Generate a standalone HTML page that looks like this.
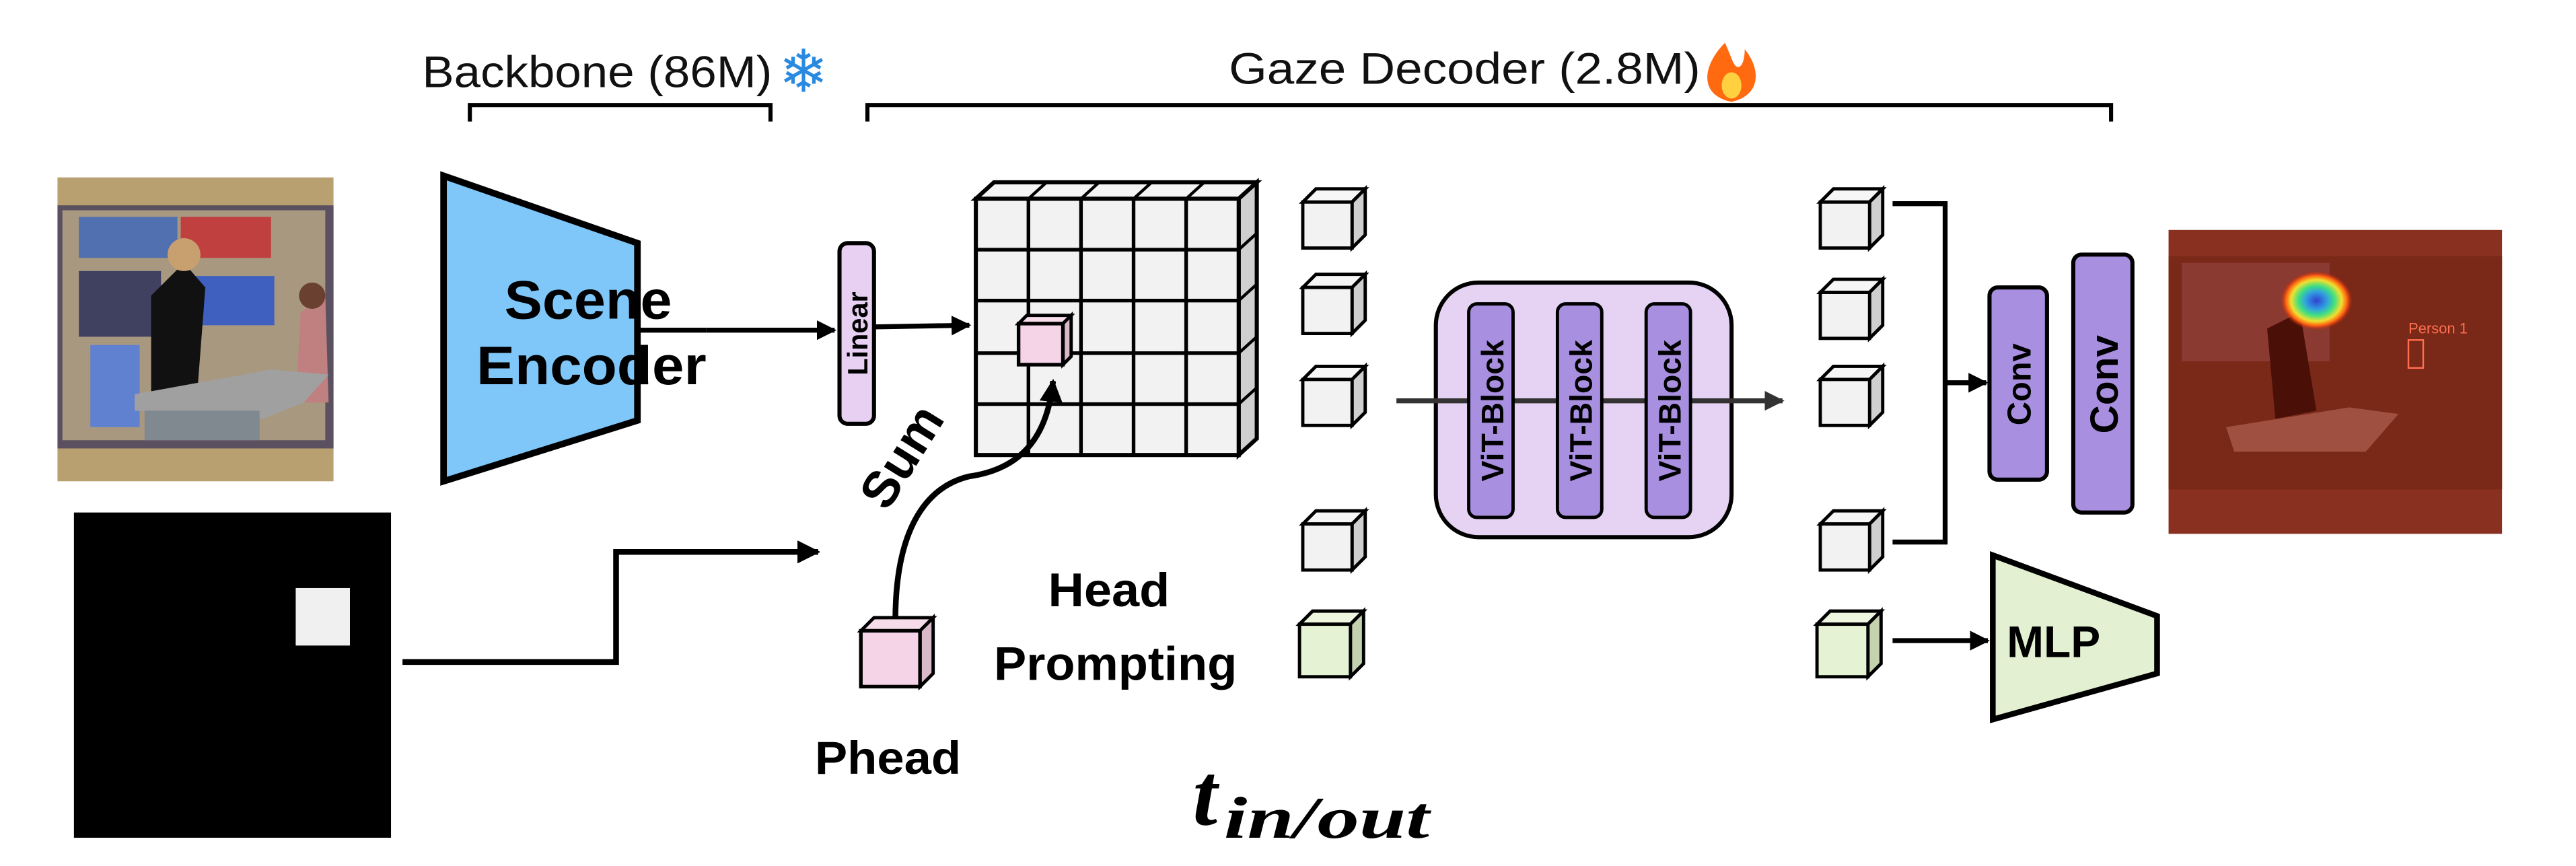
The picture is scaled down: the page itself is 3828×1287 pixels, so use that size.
<!DOCTYPE html>
<html><head><meta charset="utf-8"><style>html,body{margin:0;padding:0;background:#fff}svg{display:block}</style></head>
<body>
<svg width="3828" height="1287" viewBox="0 0 1568 527.2" preserveAspectRatio="none" xmlns="http://www.w3.org/2000/svg">
<defs>
<marker id="ah" viewBox="0 0 10 10" refX="9" refY="5" markerWidth="4" markerHeight="4" orient="auto"><path d="M0,0 L10,5 L0,10 z" fill="#000"/></marker>
<marker id="ah2" viewBox="0 0 10 10" refX="9" refY="5" markerWidth="4" markerHeight="4" orient="auto"><path d="M0,0 L10,5 L0,10 z" fill="#333"/></marker>
<radialGradient id="heat" cx="0.5" cy="0.5" r="0.5">
<stop offset="0" stop-color="#3040d0"/><stop offset="0.3" stop-color="#30a0e0"/><stop offset="0.5" stop-color="#40e080"/><stop offset="0.7" stop-color="#f0e030"/><stop offset="0.85" stop-color="#ff6010"/><stop offset="1" stop-color="#c02010" stop-opacity="0"/>
</radialGradient>
</defs>
<g font-family="Liberation Sans, sans-serif">
<text x="257" y="53" font-size="27" fill="#111" textLength="213" lengthAdjust="spacingAndGlyphs">Backbone (86M)</text>
<text x="474" y="56" font-size="36" fill="#2a8ae0">❄</text>
<path d="M286,74 V64 H469 V74" fill="none" stroke="#000" stroke-width="2.5"/>
<text x="748" y="51" font-size="27" fill="#111" textLength="287" lengthAdjust="spacingAndGlyphs">Gaze Decoder (2.8M)</text>
<path d="M1050,26 C1036,40 1034,58 1054,62 C1072,58 1072,42 1062,30 C1062,40 1058,44 1055,38 Z" fill="#ff6a10"/>
<ellipse cx="1054" cy="52" rx="6" ry="8" fill="#ffd040"/>
<path d="M528,74 V64 H1285 V74" fill="none" stroke="#000" stroke-width="2.5"/>

<rect x="35" y="108" width="168" height="185" fill="#b8a070"/>
<rect x="35" y="125" width="168" height="148" fill="#5a5060"/>
<rect x="38" y="128" width="160" height="140" fill="#a89880"/>
<rect x="48" y="132" width="60" height="25" fill="#5070b0"/><rect x="110" y="132" width="55" height="25" fill="#c04040"/>
<rect x="48" y="165" width="50" height="40" fill="#404060"/><rect x="112" y="168" width="55" height="30" fill="#4060c0"/>
<rect x="55" y="210" width="30" height="50" fill="#6080d0"/>
<path d="M92,180 L112,160 L125,175 L120,240 L92,240 Z" fill="#111"/>
<circle cx="112" cy="155" r="10" fill="#c8a070"/>
<path d="M183,190 L198,180 L200,245 L180,245 Z" fill="#c08080"/>
<circle cx="190" cy="180" r="8" fill="#6a4030"/>
<path d="M82,240 L165,225 L200,228 L185,245 L160,255 L82,250 Z" fill="#a0a0a0"/>
<rect x="88" y="250" width="70" height="18" fill="#808890"/>

<polygon points="270,107 388,148 388,256 270,293" fill="#7fc6f9" stroke="#000" stroke-width="4"/>
<text x="358" y="194" font-size="33" font-weight="bold" text-anchor="middle" textLength="102" lengthAdjust="spacingAndGlyphs">Scene</text>
<text x="360" y="234" font-size="33" font-weight="bold" text-anchor="middle" textLength="140" lengthAdjust="spacingAndGlyphs">Encoder</text>
<line x1="430" y1="201" x2="508" y2="201" stroke="#000" stroke-width="3" marker-end="url(#ah)"/>
<line x1="388" y1="201" x2="430" y2="201" stroke="#000" stroke-width="3"/>
<rect x="511" y="148" width="21" height="110" rx="5" fill="#e8d0f2" stroke="#000" stroke-width="2.5"/>
<text transform="translate(528,203) rotate(-90)" font-size="17" font-weight="bold" text-anchor="middle">Linear</text>
<line x1="532" y1="199" x2="590" y2="198" stroke="#000" stroke-width="3" marker-end="url(#ah)"/>

<polygon points="594,121 605,111 765,111 754,121" fill="#f4f4f4" stroke="#000" stroke-width="2.5"/>
<polygon points="754,121 765,111 765,267 754,277" fill="#cfcfcf" stroke="#000" stroke-width="2.5"/>
<g stroke="#000" stroke-width="1.8">
<line x1="626" y1="121" x2="637" y2="111"/><line x1="658" y1="121" x2="669" y2="111"/><line x1="690" y1="121" x2="701" y2="111"/><line x1="722" y1="121" x2="733" y2="111"/>
<line x1="754" y1="152" x2="765" y2="142"/><line x1="754" y1="183" x2="765" y2="173"/><line x1="754" y1="215" x2="765" y2="205"/><line x1="754" y1="246" x2="765" y2="236"/>
</g>
<rect x="594" y="121" width="160" height="156" fill="#f2f2f2" stroke="#000" stroke-width="2.5"/>
<g stroke="#000" stroke-width="2.2">
<line x1="626" y1="121" x2="626" y2="277"/><line x1="658" y1="121" x2="658" y2="277"/><line x1="690" y1="121" x2="690" y2="277"/><line x1="722" y1="121" x2="722" y2="277"/>
<line x1="594" y1="152" x2="754" y2="152"/><line x1="594" y1="183" x2="754" y2="183"/><line x1="594" y1="215" x2="754" y2="215"/><line x1="594" y1="246" x2="754" y2="246"/>
</g>
<polygon points="620,197 625,192 652,192 647,197" fill="#f6dbe8" stroke="#000" stroke-width="2"/>
<polygon points="647,197 652,192 652,217 647,222" fill="#d9b8c8" stroke="#000" stroke-width="2"/>
<rect x="620" y="197" width="27" height="25" fill="#f4d4e6" stroke="#000" stroke-width="2.2"/>

<path d="M545,378 C545,320 565,296 590,290 C625,285 638,262 641,232" fill="none" stroke="#000" stroke-width="3.5" marker-end="url(#ah)"/>
<text transform="translate(540,312) rotate(-58)" font-size="31" font-weight="bold">Sum</text>

<rect x="45" y="312" width="193" height="198" fill="#000"/>
<rect x="180" y="358" width="33" height="35" fill="#f0f0f0"/>
<path d="M245,403 H375 V336 H498" fill="none" stroke="#000" stroke-width="3.5" marker-end="url(#ah)"/>

<polygon points="524,384 532,376 568,376 560,384" fill="#f6dbe8" stroke="#000" stroke-width="2"/>
<polygon points="560,384 568,376 568,410 560,418" fill="#d9b8c8" stroke="#000" stroke-width="2"/>
<rect x="524" y="384" width="36" height="34" fill="#f4d4e6" stroke="#000" stroke-width="2.2"/>
<text x="496" y="471" font-size="28" font-weight="bold" textLength="89" lengthAdjust="spacingAndGlyphs">Phead</text>
<text x="638" y="369" font-size="29" font-weight="bold" textLength="74" lengthAdjust="spacingAndGlyphs">Head</text>
<text x="605" y="414" font-size="29" font-weight="bold" textLength="148" lengthAdjust="spacingAndGlyphs">Prompting</text>
<text x="726" y="502" font-family="Liberation Serif, serif" font-style="italic" font-weight="bold" font-size="54">t</text>
<text x="745" y="510" font-family="Liberation Serif, serif" font-style="italic" font-weight="bold" font-size="36" textLength="125" lengthAdjust="spacingAndGlyphs">in/out</text>

<g stroke="#000" stroke-width="2">
<g id="c1"><polygon points="793,123 801,115 831,115 823,123" fill="#f6f6f6"/><polygon points="823,123 831,115 831,143 823,151" fill="#cfcfcf"/><rect x="793" y="123" width="30" height="28" fill="#f2f2f2"/></g>
<use href="#c1" y="52"/><use href="#c1" y="108"/><use href="#c1" y="196"/>
<polygon points="791,380 799,372 830,372 822,380" fill="#eef6e0"/><polygon points="822,380 830,372 830,404 822,412" fill="#c5d2b0"/><rect x="791" y="380" width="31" height="32" fill="#e6f2d4"/>
<use href="#c1" x="315"/><use href="#c1" x="315" y="55"/><use href="#c1" x="315" y="108"/><use href="#c1" x="315" y="196"/>
<polygon points="1106,380 1114,372 1145,372 1137,380" fill="#eef6e0"/><polygon points="1137,380 1145,372 1145,404 1137,412" fill="#c5d2b0"/><rect x="1106" y="380" width="31" height="32" fill="#e6f2d4"/>
</g>

<rect x="874" y="172" width="180" height="155" rx="26" fill="#e6d3f3" stroke="#000" stroke-width="2.5"/>
<line x1="850" y1="244" x2="1085" y2="244" stroke="#333" stroke-width="3" marker-end="url(#ah2)"/>
<g fill="#a88fe0" stroke="#000" stroke-width="2">
<rect x="894" y="185" width="27" height="130" rx="5"/><rect x="948" y="185" width="27" height="130" rx="5"/><rect x="1002" y="185" width="27" height="130" rx="5"/>
</g>
<g font-size="19" font-weight="bold">
<text transform="translate(915,250) rotate(-90)" text-anchor="middle">ViT-Block</text>
<text transform="translate(969,250) rotate(-90)" text-anchor="middle">ViT-Block</text>
<text transform="translate(1023,250) rotate(-90)" text-anchor="middle">ViT-Block</text>
</g>

<path d="M1152,124 H1184 V330 H1152" fill="none" stroke="#000" stroke-width="3"/>
<line x1="1184" y1="233" x2="1209" y2="233" stroke="#000" stroke-width="3" marker-end="url(#ah)"/>
<rect x="1211" y="175" width="35" height="117" rx="5" fill="#a88fe0" stroke="#000" stroke-width="2.5"/>
<text transform="translate(1236,234) rotate(-90)" font-size="20" font-weight="bold" text-anchor="middle">Conv</text>
<rect x="1262" y="155" width="36" height="157" rx="5" fill="#a88fe0" stroke="#000" stroke-width="2.5"/>
<text transform="translate(1289,234) rotate(-90)" font-size="24" font-weight="bold" text-anchor="middle">Conv</text>
<line x1="1152" y1="390" x2="1210" y2="390" stroke="#000" stroke-width="3" marker-end="url(#ah)"/>
<polygon points="1213,338 1313,375 1313,410 1213,438" fill="#e3f1d2" stroke="#000" stroke-width="3.5"/>
<text x="1250" y="400" font-size="27" font-weight="bold" text-anchor="middle">MLP</text>

<rect x="1320" y="140" width="203" height="185" fill="#8a3020"/>
<rect x="1320" y="156" width="203" height="142" fill="#7a2818"/>
<rect x="1328" y="160" width="90" height="60" fill="#8a3a30"/>
<path d="M1380,200 L1400,190 L1410,250 L1385,255 Z" fill="#4a1008"/>
<path d="M1355,260 L1430,248 L1460,252 L1440,275 L1360,275 Z" fill="#a05040"/>
<ellipse cx="1410" cy="183" rx="22" ry="18" fill="url(#heat)"/>
<text x="1466" y="203" font-size="9" fill="#ff7050">Person 1</text>
<rect x="1466" y="207" width="9" height="17" fill="none" stroke="#ff7050" stroke-width="1"/>
</g>
</svg>
</body></html>
